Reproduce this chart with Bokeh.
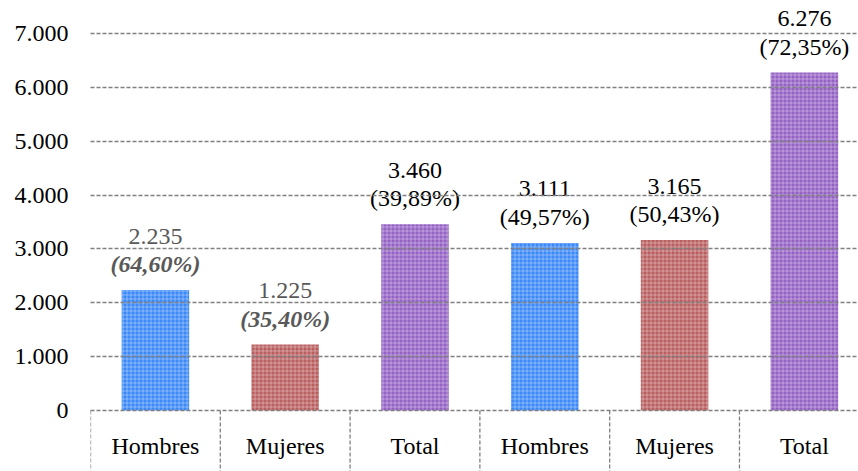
from bokeh.plotting import figure
from bokeh.models import Range1d, FixedTicker, ColumnDataSource
from bokeh.core.properties import value
from bokeh.embed import file_html
from bokeh.resources import INLINE

categories = ["Hombres", "Mujeres", "Total", "Hombres", "Mujeres", "Total"]
values = [2235, 1225, 3460, 3111, 3165, 6276]
value_labels = ["2.235", "1.225", "3.460", "3.111", "3.165", "6.276"]
pct_labels = ["(64,60%)", "(35,40%)", "(39,89%)", "(49,57%)", "(50,43%)", "(72,35%)"]
y_ticks = [0, 1000, 2000, 3000, 4000, 5000, 6000, 7000]
y_tick_labels = ["0", "1.000", "2.000", "3.000", "4.000", "5.000", "6.000", "7.000"]

bar_colors = ["#3b88f7", "#b95f60", "#9462c4", "#3b88f7", "#b95f60", "#9462c4"]
label_colors = ["#595959", "#595959", "#000000", "#000000", "#000000", "#000000"]
pct_styles = ["bold italic", "bold italic", "normal", "normal", "normal", "normal"]

FONT_NAME = "Liberation Serif"
FONT = value(FONT_NAME)
n = len(categories)
xs = [i + 0.5 for i in range(n)]

p = figure(width=858, height=471, output_backend="svg", toolbar_location=None,
           x_range=Range1d(0, 5.917), y_range=Range1d(-1133, 7613),
           min_border_left=90, min_border_right=0, min_border_top=0, min_border_bottom=0)
p.outline_line_color = None
p.xaxis.visible = False
p.xgrid.visible = False
p.background_fill_color = "white"

ax = p.yaxis[0]
ax.ticker = FixedTicker(ticks=y_ticks)
ax.major_label_overrides = {t: l for t, l in zip(y_ticks, y_tick_labels)}
ax.axis_line_color = None
ax.major_tick_line_color = None
ax.minor_tick_line_color = None
ax.major_tick_out = 0
ax.major_tick_in = 0
ax.major_label_standoff = 22
ax.major_label_text_font = FONT_NAME
ax.major_label_text_font_size = "24px"
ax.major_label_text_color = "#000000"

p.ygrid.ticker = FixedTicker(ticks=y_ticks)
p.ygrid.grid_line_color = "#808080"
p.ygrid.grid_line_dash = "4 2"
p.ygrid.grid_line_width = 1.3
p.ygrid.level = "overlay"

src = ColumnDataSource(dict(x=xs, top=values, color=bar_colors, cat=categories,
                            vl=value_labels, pl=pct_labels, lc=label_colors, ps=pct_styles))

p.vbar(x="x", top="top", bottom=0, width=0.52, source=src, fill_color="color",
       line_color=None, hatch_pattern="+", hatch_color="white", hatch_alpha=0.35,
       hatch_scale=4, hatch_weight=1)

# category separators below the baseline
bounds = list(range(n + 1))
p.segment(x0=bounds, y0=[0] * len(bounds), x1=bounds, y1=[p.y_range.start] * len(bounds),
          line_color="#808080", line_dash="4 2", line_width=1.3)

# category labels
p.text(x="x", y=0, text="cat", source=src, text_font=FONT, text_font_size="24px",
       text_align="center", text_baseline="middle", y_offset=36, text_color="#000000")

# value labels
p.text(x="x", y="top", text="vl", source=src, text_font=FONT, text_font_size="24px",
       text_align="center", text_baseline="middle", y_offset=-54, text_color="lc")
p.text(x="x", y="top", text="pl", source=src, text_font=FONT, text_font_size="24px",
       text_font_style="ps", text_align="center", text_baseline="middle", y_offset=-26,
       text_color="lc")

open("out.html", "w").write(file_html(p, INLINE))
